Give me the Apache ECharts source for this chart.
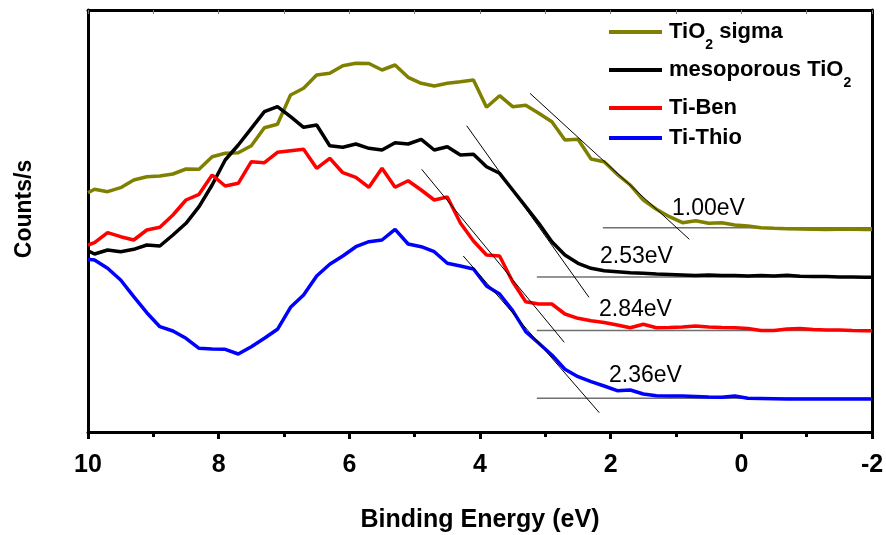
<!DOCTYPE html>
<html><head><meta charset="utf-8">
<script src="https://cdn.jsdelivr.net/npm/echarts@6/dist/echarts.min.js"></script>
<style>html,body{margin:0;padding:0;background:#fff}#c{width:886px;height:535px}</style>
</head><body><div id="c"></div>
<script>
// Binding energy (eV) of each measured point
const energy = [10, 9.9, 9.7, 9.5, 9.3, 9.1, 8.9, 8.7, 8.5, 8.3,
  8.1, 7.9, 7.7, 7.5, 7.3, 7.1, 6.9, 6.7, 6.5, 6.3,
  6.1, 5.9, 5.7, 5.5, 5.3, 5.1, 4.9, 4.7, 4.5, 4.3,
  4.1, 3.9, 3.7, 3.5, 3.3, 3.1, 2.9, 2.7, 2.5, 2.3,
  2.1, 1.9, 1.7, 1.5, 1.3, 1.1, 0.9, 0.7, 0.5, 0.3,
  0.1, -0.1, -0.3, -0.5, -0.7, -0.9, -1.1, -1.3, -1.5, -1.7,
  -1.9, -2];
// Counts/s (arbitrary units, offset curves)
const tio2Sigma = [239.3, 242.7, 240.3, 244.3, 252, 255.3, 256, 258, 263, 262.7,
  275.3, 278.7, 279.3, 286.3, 304.3, 307.7, 337, 343.7, 357, 358.7,
  366.3, 368.7, 368.5, 362, 367, 354.7, 348.7, 346, 348.7, 350.3,
  352, 324.7, 336.3, 325.3, 326.7, 318.7, 310.3, 292, 292.7, 273,
  270.3, 257.7, 247, 232, 222.7, 215.3, 209.3, 211.3, 208.7, 209.3,
  207, 206, 204.3, 203.7, 203.3, 203, 202.7, 202.5, 202.7, 202.7,
  202.5, 202.5];
const mesoTiO2 = [181.3, 178, 182, 180.3, 182.7, 187, 186, 197, 208.7, 225.3,
  247, 272, 287, 303.7, 320.3, 325.3, 315.3, 304.7, 307, 286.3,
  284.7, 288, 283.7, 282, 289.3, 288, 292.7, 282, 285.3, 277,
  277.7, 265.3, 258.7, 242, 225.3, 208.7, 190.3, 177, 168.7, 163.7,
  161.3, 160.3, 159.3, 158.7, 158, 157.5, 157, 156.5, 157, 156.5,
  156.5, 156, 156.5, 156, 156.7, 155.7, 155.5, 155.5, 155, 155,
  154.7, 154.7];
const tiBen = [187, 189.3, 199.3, 195.3, 192, 202, 204.7, 217, 232, 237.7,
  257, 246, 248.7, 270.3, 269.3, 279.7, 281.3, 282.7, 263.7, 273.7,
  259.3, 254.7, 244.7, 263.7, 244.7, 251.3, 242, 232, 235, 209,
  191, 177, 176, 150.3, 130.3, 128, 128, 118, 113.7, 111.3,
  109.5, 107, 104.3, 107.7, 104.3, 104.5, 105, 106, 105, 104.5,
  104.3, 103.5, 101.5, 101.5, 103, 103.5, 102.5, 102, 102, 101.5,
  101.3, 101.3];
const tiThio = [172.7, 172, 163.7, 152, 135.3, 119.3, 105.3, 101, 93.7, 83.7,
  83, 82.7, 78, 85.3, 93.7, 102.7, 124.7, 137, 156, 167.7,
  176, 185.3, 190.3, 192, 202.7, 188, 185.3, 180.3, 168.7, 166,
  163, 146, 138, 121.3, 100.3, 88.7, 77, 62.7, 55.3, 50.3,
  46, 41.3, 42, 38, 36.3, 36, 36, 35.5, 35, 34.7,
  36, 33.7, 33.5, 33.3, 33, 33, 33, 33, 33, 33,
  33, 33];
const seriesNames = ['TiO2 sigma', 'mesoporous TiO2', 'Ti-Ben', 'Ti-Thio'];
const seriesValues = [tio2Sigma, mesoTiO2, tiBen, tiThio];
// band-gap extrapolation: tangent end points [eV, counts]
const tangentLines = [
  [[3.235, 338.7], [0.796, 192.7]],
  [[4.204, 306.3], [2.332, 134.7]],
  [[4.893, 262.7], [2.710, 89.7]],
  [[4.256, 176.0], [2.174, 19.3]]
];
// baselines [start eV, end eV, counts]
const baseLines = [[2.12, -2, 204.3], [3.13, -2, 155], [3.13, -2, 101.5], [3.13, -2, 33.7]];
const gapLabels = ['1.00eV', '2.53eV', '2.84eV', '2.36eV'];

// ---- styling / layout ----
const FONT = 'Liberation Sans, Arial, Helvetica, sans-serif';
const colors = ['#808000', '#000000', '#ff0000', '#0000ff'];
const labelAnchors = [[1.061, 223], [2.163, 175], [2.179, 122], [2.025, 56]];
const legendTops = [12, 50, 97, 127];
const legendText = {
  'TiO2 sigma': '{b|TiO}{s|2}{b| sigma}',
  'mesoporous TiO2': '{b|mesoporous TiO}{s|2}',
  'Ti-Ben': '{b|Ti-Ben}',
  'Ti-Thio': '{b|Ti-Thio}'
};

const series = [];
baseLines.forEach((b, i) => {
  series.push({type: 'line', data: [[b[0], b[2]], [b[1], b[2]]], symbol: 'none', silent: true, z: 1,
    lineStyle: {color: '#707070', width: 1.5}});
});
seriesNames.forEach((n, i) => {
  series.push({name: n, type: 'line', data: energy.map((x, k) => [x, seriesValues[i][k]]),
    symbol: 'none', showSymbol: false, z: 3, clip: true,
    lineStyle: {color: colors[i], width: 3.5}, itemStyle: {color: colors[i]}});
});
tangentLines.forEach((t) => {
  series.push({type: 'line', data: t, symbol: 'none', silent: true, z: 5,
    lineStyle: {color: '#000', width: 1}});
});
series.push({type: 'scatter', symbolSize: 0, silent: true, z: 6,
  itemStyle: {opacity: 1, color: '#000'},
  data: labelAnchors.map((p, i) => ({value: p, name: gapLabels[i]})),
  label: {show: true, position: 'right', distance: 0, formatter: p => p.name, opacity: 1,
    fontSize: 23, color: '#000', fontFamily: FONT}});

const legends = seriesNames.map((n, i) => ({
  data: [n], left: 609, top: legendTops[i], orient: 'horizontal', selectedMode: false,
  icon: 'rect', itemWidth: 53, itemHeight: 4, padding: 0,
  formatter: name => legendText[name],
  textStyle: {fontFamily: FONT, color: '#000', padding: [0, 0, 0, 2],
    rich: {
      b: {fontSize: 22, fontWeight: 'bold', fontFamily: FONT, color: '#000', lineHeight: 24, verticalAlign: 'middle'},
      s: {fontSize: 14, fontWeight: 'bold', fontFamily: FONT, color: '#000', lineHeight: 14, padding: [26, 0, 0, 0], verticalAlign: 'middle'}
    }}
}));

const chart = echarts.init(document.getElementById('c'), null, {renderer: 'canvas'});
chart.setOption({
  animation: false,
  backgroundColor: '#fff',
  grid: {left: 88, right: 14, top: 10, bottom: 103, containLabel: false, outerBoundsMode: 'none'},
  legend: legends,
  xAxis: [{
    type: 'value', min: -2, max: 10, interval: 2, inverse: true, position: 'bottom',
    axisLine: {onZero: false, lineStyle: {color: '#000', width: 3}},
    axisTick: {show: true, length: 7, lineStyle: {color: '#000', width: 3}},
    minorTick: {show: true, splitNumber: 2, length: 5, lineStyle: {color: '#000', width: 3}},
    axisLabel: {fontSize: 25, fontWeight: 'bold', color: '#000', margin: 21, fontFamily: FONT, showMinLabel: true, showMaxLabel: true},
    splitLine: {show: false},
    name: 'Binding Energy (eV)', nameLocation: 'middle', nameGap: 76,
    nameTextStyle: {fontSize: 25, fontWeight: 'bold', color: '#000', fontFamily: FONT}
  }, {
    type: 'value', min: -2, max: 10, interval: 2, inverse: true, position: 'top',
    axisLine: {onZero: false, lineStyle: {color: '#000', width: 3}},
    axisTick: {show: true, inside: true, length: 4, lineStyle: {color: '#777', width: 1}},
    minorTick: {show: true, splitNumber: 2, length: 4, lineStyle: {color: '#777', width: 1}},
    axisLabel: {show: false}, splitLine: {show: false}
  }],
  yAxis: [{
    type: 'value', min: 0, max: 422, position: 'left',
    axisLine: {show: true, onZero: false, lineStyle: {color: '#000', width: 3}},
    axisTick: {show: false}, axisLabel: {show: false}, splitLine: {show: false},
    name: 'Counts/s', nameLocation: 'middle', nameGap: 52, nameRotate: 90,
    nameTextStyle: {fontSize: 23, fontWeight: 'bold', color: '#000', fontFamily: FONT, padding: [0, 0, 0, 24]}
  }, {
    type: 'value', min: 0, max: 422, position: 'right',
    axisLine: {show: true, onZero: false, lineStyle: {color: '#000', width: 3}},
    axisTick: {show: false}, axisLabel: {show: false}, splitLine: {show: false}
  }],
  series: series
});
</script></body></html>
